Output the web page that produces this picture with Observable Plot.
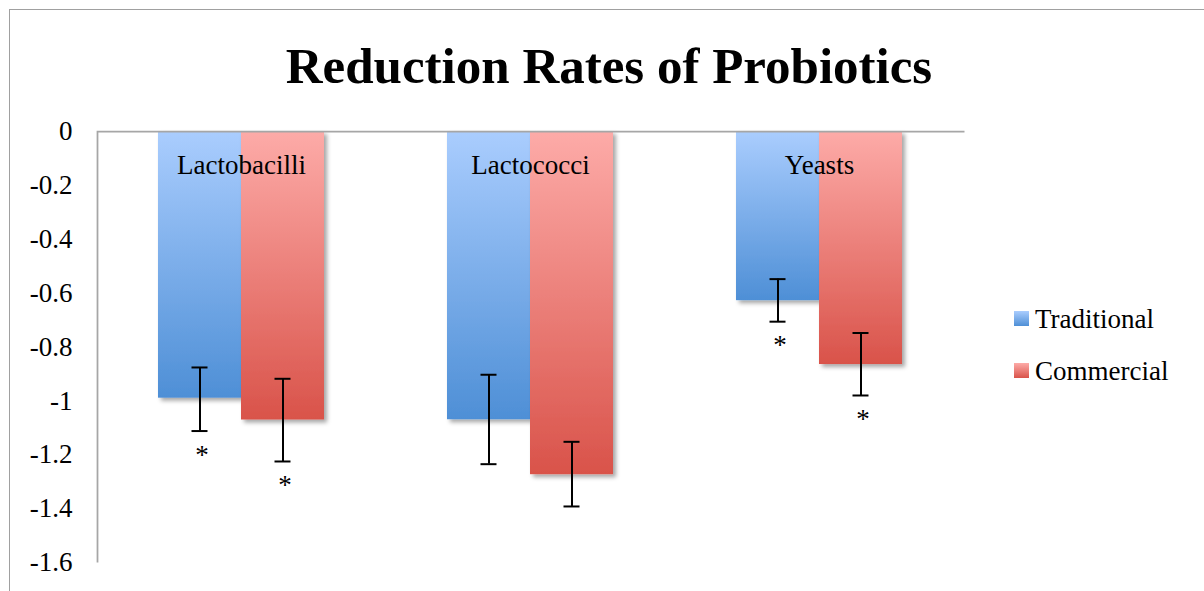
<!DOCTYPE html>
<html>
<head>
<meta charset="utf-8">
<script src="https://cdn.jsdelivr.net/npm/d3@7"></script>
<script src="https://cdn.jsdelivr.net/npm/@observablehq/plot@0.6"></script>
<style>
  body { margin: 0; background: #fff; }
  #wrap { position: relative; width: 1204px; height: 591px; overflow: hidden; font-family: "Liberation Serif", "Times New Roman", serif; color: #000; }
  #border { position: absolute; left: 9px; top: 9px; width: 1400px; height: 800px; border-top: 1.5px solid #a0a0a0; border-left: 1.5px solid #a0a0a0; pointer-events: none; }
  #title { position: relative; height: 100px; }
  #title span { position: absolute; left: 14px; right: 0; top: 41px; text-align: center; font-weight: bold; font-size: 51px; line-height: 51px; white-space: nowrap; }
  #chart svg { display: block; }
  .item { position: absolute; left: 1014px; height: 27px; font-size: 27px; line-height: 27px; white-space: nowrap; }
  .item .sw { position: absolute; left: 0; top: 5px; width: 15px; height: 15px; }
  .item .lb { position: absolute; left: 21px; top: 0; }
</style>
</head>
<body>
<div id="wrap">
  <div id="border"></div>
  <div id="title"><span>Reduction Rates of Probiotics</span></div>
  <div id="chart"></div>
  <div id="legend"></div>
</div>
<script>
// ---- data ----
const categories = ["Lactobacilli", "Lactococci", "Yeasts"];
const series = ["Traditional", "Commercial"];
const traditional = [-0.99, -1.07, -0.628];
const commercial = [-1.071, -1.274, -0.865];
const traditionalErrHigh = [-0.876, -0.903, -0.548];
const traditionalErrLow = [-1.112, -1.235, -0.706];
const commercialErrHigh = [-0.918, -1.152, -0.748];
const commercialErrLow = [-1.225, -1.392, -0.98];
const traditionalStar = [true, false, true];
const commercialStar = [true, false, true];
const yTicks = [0, -0.2, -0.4, -0.6, -0.8, -1, -1.2, -1.4, -1.6];

// ---- styles ----
const palette = [["#aacdfe", "#4e8fd6"], ["#fdaba8", "#d9534a"]];
const W = 1204, H = 491;
const mL = 97, mR = 240, mT = 31, mB = 29;
const paddingInner = 0.4256, paddingOuter = 0.2128;

const values = [traditional, commercial];
const errHigh = [traditionalErrHigh, commercialErrHigh];
const errLow = [traditionalErrLow, commercialErrLow];
const stars = [traditionalStar, commercialStar];

const rows = series.flatMap((s, si) => categories.map((c, ci) => ({
  series: s, si, category: c, value: values[si][ci],
  hi: errHigh[si][ci], lo: errLow[si][ci], star: stars[si][ci]
})));

const bw = Plot.scale({x: {type: "band", domain: categories, range: [mL, W - mR], paddingInner, paddingOuter}}).bandwidth;
const capW = 16;
const fmt = d => String(+(+d).toFixed(1));

const marks = [];
series.forEach((s, si) => {
  const data = rows.filter(d => d.si === si);
  marks.push(Plot.barY(data, {
    x: "category", y: "value", fill: `url(#grad-${si})`,
    insetLeft: si === 0 ? 0 : bw / 2, insetRight: si === 0 ? bw / 2 : 0
  }));
});
series.forEach((s, si) => {
  const data = rows.filter(d => d.si === si);
  const off = (si === 0 ? -1 : 1) * bw / 4;
  marks.push(Plot.ruleX(data, {x: "category", y1: "hi", y2: "lo", dx: off, stroke: "#000", strokeWidth: 2}));
  marks.push(Plot.tickY(data, {x: "category", y: "hi", dx: off, insetLeft: (bw - capW) / 2, insetRight: (bw - capW) / 2, stroke: "#000", strokeWidth: 2}));
  marks.push(Plot.tickY(data, {x: "category", y: "lo", dx: off, insetLeft: (bw - capW) / 2, insetRight: (bw - capW) / 2, stroke: "#000", strokeWidth: 2}));
  marks.push(Plot.text(data.filter(d => d.star), {x: "category", y: "lo", text: () => "*", dx: off + 2, dy: 24, fontSize: 27, fill: "#000"}));
});
marks.push(Plot.text(categories, {x: d => d, frameAnchor: "top", dy: 23, fontSize: 27, fill: "#000"}));
const fw = W - mL - mR, fh = H - mT - mB;
marks.push(Plot.frame({stroke: "#a6a6a6", strokeWidth: 1.75, strokeDasharray: `${fw} ${fh + fw} ${fh}`}));

const svg = Plot.plot({
  width: W, height: H,
  marginLeft: mL, marginRight: mR, marginTop: mT, marginBottom: mB,
  style: {fontFamily: "Liberation Serif, serif", fontSize: "27px", color: "#000", background: "transparent"},
  x: {type: "band", domain: categories, paddingInner, paddingOuter, axis: null},
  y: {domain: [-1.6, 0], ticks: yTicks, tickSize: 0, tickPadding: 25, tickFormat: fmt, label: null},
  marks
});

const defs = d3.select(svg).insert("defs", ":first-child");
palette.forEach(([top, bottom], i) => {
  const g = defs.append("linearGradient").attr("id", `grad-${i}`).attr("x1", 0).attr("y1", 0).attr("x2", 0).attr("y2", 1);
  g.append("stop").attr("offset", "0%").attr("stop-color", top);
  g.append("stop").attr("offset", "100%").attr("stop-color", bottom);
});
const f = defs.append("filter").attr("id", "shadow").attr("x", "-10%").attr("y", "-10%").attr("width", "130%").attr("height", "130%");
f.append("feDropShadow").attr("dx", 3).attr("dy", 3).attr("stdDeviation", 2).attr("flood-color", "#000").attr("flood-opacity", 0.35);
svg.querySelectorAll('g[aria-label="bar"]').forEach(g => g.setAttribute("filter", "url(#shadow)"));

document.getElementById("chart").appendChild(svg);

// legend
const legend = document.getElementById("legend");
const legendTops = [306, 358];
series.forEach((s, i) => {
  const item = document.createElement("div");
  item.className = "item";
  item.style.top = legendTops[i] + "px";
  const sw = document.createElement("div");
  sw.className = "sw";
  sw.style.background = `linear-gradient(${palette[i][0]}, ${palette[i][1]})`;
  const lb = document.createElement("div");
  lb.className = "lb";
  lb.textContent = s;
  item.appendChild(sw);
  item.appendChild(lb);
  legend.appendChild(item);
});
</script>
</body>
</html>
